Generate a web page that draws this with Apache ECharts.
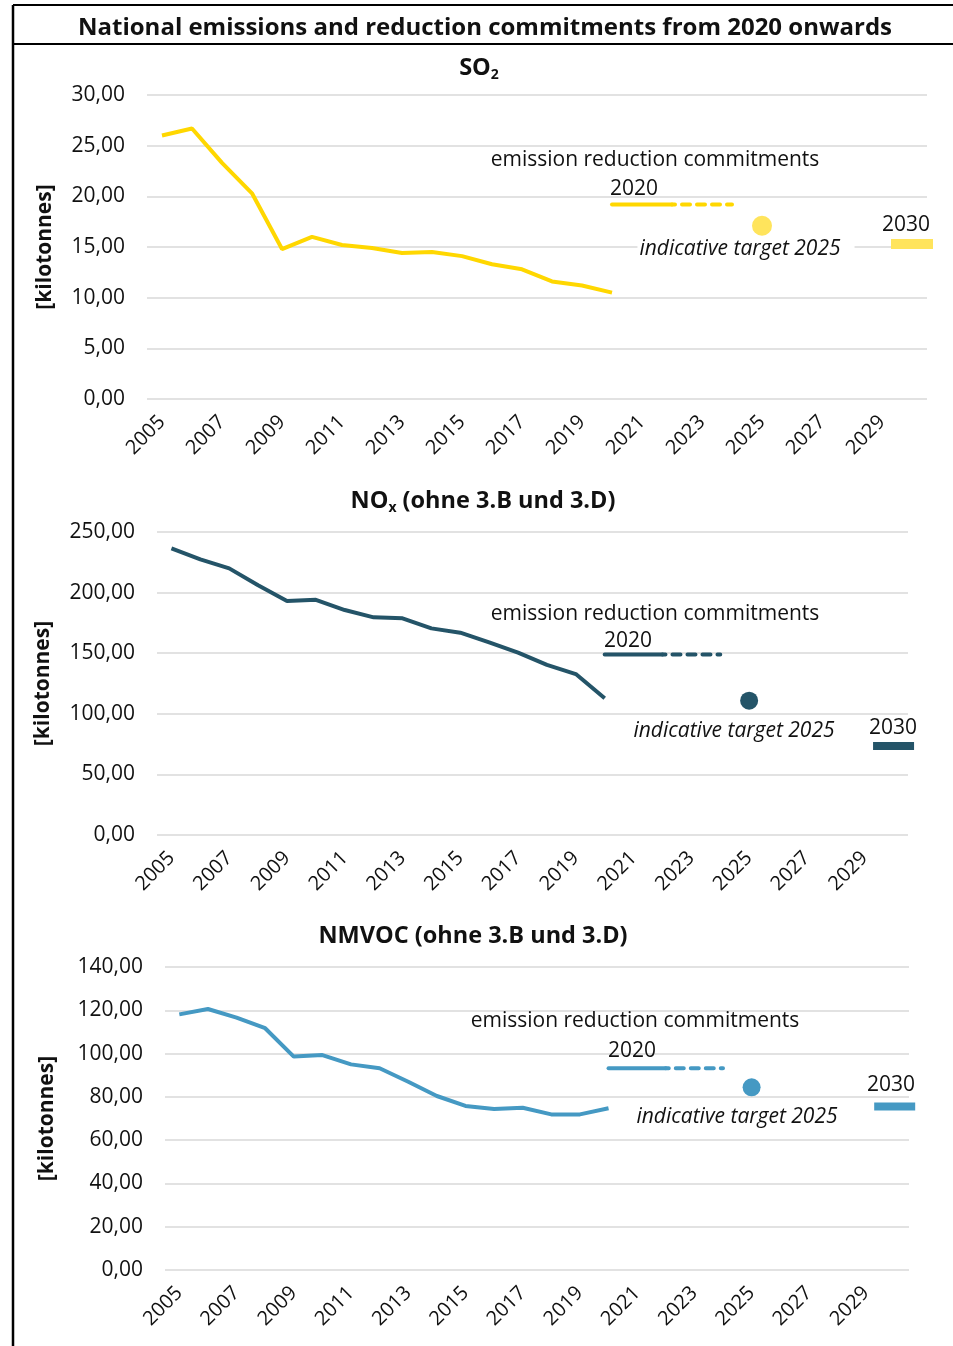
<!DOCTYPE html>
<html>
<head>
<meta charset="utf-8">
<script src="https://cdn.jsdelivr.net/npm/echarts@6/dist/echarts.min.js"></script>
<style>
	html, body { margin: 0; padding: 0; background: #fff; }
	#main { width: 953px; height: 1346px; }
</style>
</head>
<body>
<div id="main"></div>
<script>
// categories (x axis)
var years = ['2005', '2006', '2007', '2008', '2009', '2010', '2011', '2012', '2013',
	'2014', '2015', '2016', '2017', '2018', '2019', '2020', '2021', '2022', '2023',
	'2024', '2025', '2026', '2027', '2028', '2029', '2030'];

// SO2 emissions 2005-2020 [kt]
var so2Hist = [26.0, 26.7, 23.3, 20.3, 14.8, 16.0, 15.2, 14.9, 14.4, 14.5, 14.1, 13.3, 12.8, 11.6, 11.2, 10.5];
var so2Commit = 19.2;		// commitment from 2020
var so2Target2025 = 17.1;	// indicative target 2025
var so2Target2030 = 15.3;	// commitment 2030

// NOx emissions 2005-2020 [kt]
var noxHist = [236.5, 227.4, 220.0, 206.0, 193.0, 194.0, 185.6, 179.6, 178.8, 170.5, 166.9, 159.0, 150.4, 140.3, 132.8, 112.8];
var noxCommit = 149.0;
var noxTarget2025 = 110.8;
var noxTarget2030 = 73.4;

// NMVOC emissions 2005-2020 [kt]
var nmvocHist = [118.1, 120.6, 116.6, 111.7, 98.6, 99.3, 95.0, 93.2, 87.0, 80.4, 75.8, 74.4, 75.0, 71.9, 71.9, 74.7];
var nmvocCommit = 93.2;
var nmvocTarget2025 = 84.4;
var nmvocTarget2030 = 75.6;

// commitment line: solid part and dashed part
var commitSolidYears = ['2020', '2022'];
var commitDashYears = ['2022', '2024'];

// y axis ticks
var so2Axis = { min: 0, max: 30, interval: 5 };
var noxAxis = { min: 0, max: 250, interval: 50 };
var nmvocAxis = { min: 0, max: 140, interval: 20 };

var FONT = '"Open Sans", "Noto Sans", sans-serif';
var txtColor = '#111';

function fmt(v) {
	return v.toFixed(2).replace('.', ',');
}

function xAxisOf(idx) {
	return {
		type: 'category',
		gridIndex: idx,
		data: years,
		boundaryGap: true,
		axisLine: { show: false },
		axisTick: { show: false },
		axisLabel: {
			interval: 1,
			rotate: 45,
			margin: 20,
			fontSize: 20,
			fontFamily: FONT,
			color: txtColor
		}
	};
}

function yAxisOf(idx, ax, gap) {
	return {
		type: 'value',
		gridIndex: idx,
		min: ax.min,
		max: ax.max,
		interval: ax.interval,
		name: '[kilotonnes]',
		nameLocation: 'middle',
		nameGap: gap,
		nameTextStyle: { fontSize: 21, fontWeight: 'bold', fontFamily: FONT, color: txtColor },
		axisLine: { show: false },
		axisTick: { show: false },
		axisLabel: { fontSize: 21, fontFamily: FONT, color: txtColor, margin: 22, formatter: fmt },
		splitLine: { lineStyle: { color: '#d9d9d9', width: 1.5 } }
	};
}

function seriesOf(idx, hist, commit, t25, t30, c) {
	return [
		{
			type: 'line', xAxisIndex: idx, yAxisIndex: idx,
			data: hist, symbol: 'none', silent: true,
			lineStyle: { color: c.line, width: 4 }
		},
		{
			type: 'line', xAxisIndex: idx, yAxisIndex: idx,
			data: [[commitSolidYears[0], commit], [commitSolidYears[1], commit]],
			symbol: 'none', silent: true,
			lineStyle: { color: c.line, width: 4, cap: 'round' }
		},
		{
			type: 'line', xAxisIndex: idx, yAxisIndex: idx,
			data: [[commitDashYears[0], commit], [commitDashYears[1], commit]],
			symbol: 'none', silent: true,
			lineStyle: { color: c.line, width: 4, type: [8, 7], dashOffset: -10, cap: 'round' }
		},
		{
			type: 'scatter', xAxisIndex: idx, yAxisIndex: idx,
			data: [['2025', t25]], symbol: 'circle', symbolSize: c.dot, silent: true,
			itemStyle: { color: c.soft, opacity: 1 }
		},
		{
			type: 'scatter', xAxisIndex: idx, yAxisIndex: idx,
			data: [['2030', t30]], symbol: 'rect', symbolSize: c.bar, silent: true,
			itemStyle: { color: c.soft, opacity: 1 }
		}
	];
}

function txt(x, y, s, font, align, bg) {
	var st = { text: s, font: font, fill: txtColor, textAlign: align || 'center', textVerticalAlign: 'middle' };
	if (bg) {
		st.backgroundColor = '#fff';
		st.padding = [0, 14, 0, 2];
	}
	return { type: 'text', x: x, y: y, silent: true, z: 100, style: st };
}

function subTitle(x, y, main, sub, rest) {
	return {
		type: 'text', x: x, y: y, silent: true,
		style: {
			text: '{m|' + main + '}{s|' + sub + '}' + (rest ? '{m|' + rest + '}' : ''),
			textAlign: 'center', textVerticalAlign: 'middle',
			rich: {
				m: { font: 'bold 23.5px ' + FONT, fill: txtColor, lineHeight: 28 },
				s: { font: 'bold 14px ' + FONT, fill: txtColor, lineHeight: 28, verticalAlign: 'bottom', padding: [13, 0, 0, 0] }
			}
		}
	};
}

var reg = '21px ' + FONT;
var ital = 'italic 21px ' + FONT;

var chart = echarts.init(document.getElementById('main'));

var option = {
	animation: false,
	backgroundColor: '#fff',
	grid: [
		{ left: 147, top: 95, width: 780, height: 304, containLabel: false, outerBoundsMode: 'none' },
		{ left: 157, top: 532, width: 751, height: 303, containLabel: false, outerBoundsMode: 'none' },
		{ left: 165, top: 967, width: 744, height: 303, containLabel: false, outerBoundsMode: 'none' }
	],
	xAxis: [xAxisOf(0), xAxisOf(1), xAxisOf(2)],
	yAxis: [yAxisOf(0, so2Axis, 91), yAxisOf(1, noxAxis, 103), yAxisOf(2, nmvocAxis, 107)],
	series: [].concat(
		seriesOf(0, so2Hist, so2Commit, so2Target2025, so2Target2030,
			{ line: '#FFD700', soft: '#FFE45C', dot: 20, bar: [42, 10] }),
		seriesOf(1, noxHist, noxCommit, noxTarget2025, noxTarget2030,
			{ line: '#245468', soft: '#245468', dot: 18, bar: [41, 8] }),
		seriesOf(2, nmvocHist, nmvocCommit, nmvocTarget2025, nmvocTarget2030,
			{ line: '#4599C3', soft: '#4599C3', dot: 18, bar: [41, 8] })
	),
	graphic: [
		// frame
		{ type: 'line', silent: true, shape: { x1: 13, y1: 5, x2: 953, y2: 5 }, style: { stroke: '#000', lineWidth: 2 } },
		{ type: 'line', silent: true, shape: { x1: 13, y1: 44, x2: 953, y2: 44 }, style: { stroke: '#000', lineWidth: 2 } },
		{ type: 'line', silent: true, shape: { x1: 13, y1: 5, x2: 13, y2: 1346 }, style: { stroke: '#000', lineWidth: 2.5 } },
		txt(485, 28, 'National emissions and reduction commitments from 2020 onwards', 'bold 24px ' + FONT),
		// panel titles
		subTitle(479, 68, 'SO', '2'),
		subTitle(483, 501, 'NO', 'x', ' (ohne 3.B und 3.D)'),
		txt(473, 936, 'NMVOC (ohne 3.B und 3.D)', 'bold 23.5px ' + FONT),
		// SO2 annotations
		txt(655, 160, 'emission reduction commitments', reg),
		txt(610, 189, '2020', reg, 'left'),
		txt(746, 249, 'indicative target 2025', ital, 'center', true),
		txt(906, 225, '2030', reg),
		// NOx annotations
		txt(655, 614, 'emission reduction commitments', reg),
		txt(604, 641, '2020', reg, 'left'),
		txt(734, 731, 'indicative target 2025', ital),
		txt(893, 728, '2030', reg),
		// NMVOC annotations
		txt(635, 1021, 'emission reduction commitments', reg),
		txt(608, 1051, '2020', reg, 'left'),
		txt(737, 1117, 'indicative target 2025', ital),
		txt(891, 1085, '2030', reg)
	]
};

chart.setOption(option);
</script>
</body>
</html>
